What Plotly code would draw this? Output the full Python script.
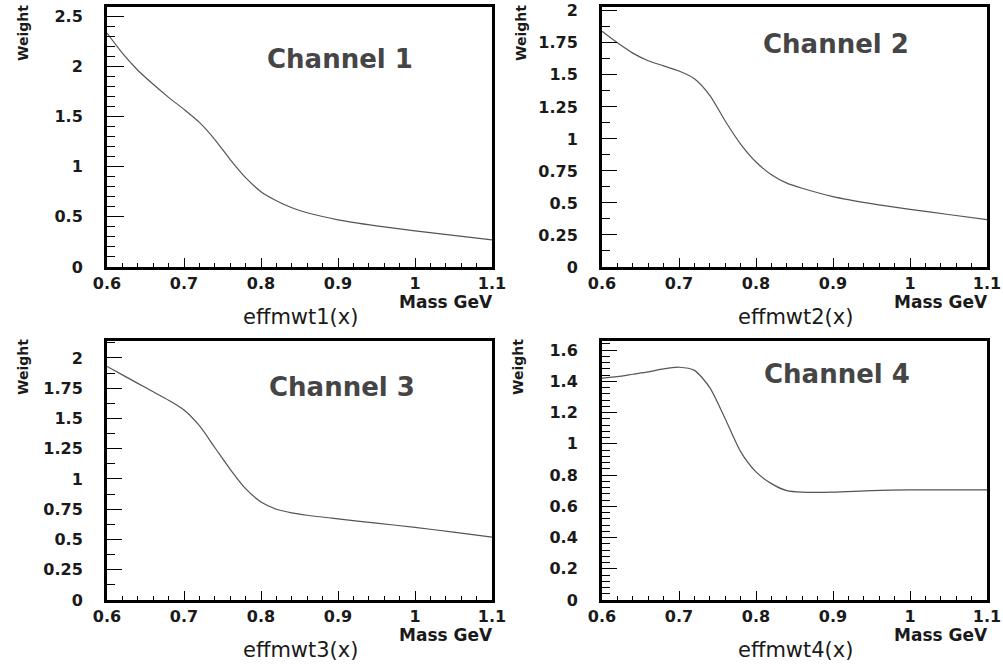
import plotly.graph_objects as go

# ---- data ----
mass = [0.60, 0.62, 0.64, 0.66, 0.68, 0.70, 0.72, 0.74, 0.76, 0.78,
        0.80, 0.82, 0.84, 0.86, 0.90, 0.95, 1.00, 1.05, 1.10]

weight_ch1 = [2.33, 2.13, 1.96, 1.82, 1.69, 1.57, 1.44, 1.27, 1.07, 0.89,
              0.75, 0.66, 0.59, 0.54, 0.47, 0.41, 0.36, 0.315, 0.27]
weight_ch2 = [1.84, 1.75, 1.67, 1.61, 1.57, 1.53, 1.47, 1.34, 1.14, 0.96,
              0.82, 0.72, 0.655, 0.615, 0.55, 0.495, 0.45, 0.41, 0.37]
weight_ch3 = [1.93, 1.86, 1.79, 1.72, 1.65, 1.57, 1.44, 1.26, 1.08, 0.92,
              0.81, 0.75, 0.72, 0.70, 0.67, 0.635, 0.60, 0.56, 0.52]
weight_ch4 = [1.42, 1.43, 1.445, 1.46, 1.48, 1.49, 1.47, 1.36, 1.16, 0.95,
              0.82, 0.745, 0.70, 0.69, 0.69, 0.70, 0.705, 0.705, 0.705]

panel_titles = ["Channel 1", "Channel 2", "Channel 3", "Channel 4"]
func_names = ["effmwt1(x)", "effmwt2(x)", "effmwt3(x)", "effmwt4(x)"]
x_title = "Mass GeV"
y_title = "Weight"

x_tickvals = [0.6, 0.7, 0.8, 0.9, 1.0, 1.1]
x_ticktext = ["0.6", "0.7", "0.8", "0.9", "1", "1.1"]

y_tickvals_1 = [0, 0.5, 1, 1.5, 2, 2.5]
y_ticktext_1 = ["0", "0.5", "1", "1.5", "2", "2.5"]
y_tickvals_2 = [0, 0.25, 0.5, 0.75, 1, 1.25, 1.5, 1.75, 2]
y_ticktext_2 = ["0", "0.25", "0.5", "0.75", "1", "1.25", "1.5", "1.75", "2"]
y_tickvals_3 = y_tickvals_2
y_ticktext_3 = y_ticktext_2
y_tickvals_4 = [0, 0.2, 0.4, 0.6, 0.8, 1, 1.2, 1.4, 1.6]
y_ticktext_4 = ["0", "0.2", "0.4", "0.6", "0.8", "1", "1.2", "1.4", "1.6"]

# ---- layout geometry (pixels) ----
W, H = 1003, 665
cols = [(107, 492), (602, 987)]
rows = [(7, 267), (341, 600)]


def px(x):
    return x / W


def py(y):
    return 1 - y / H


series = [weight_ch1, weight_ch2, weight_ch3, weight_ch4]
yticks = [(y_tickvals_1, y_ticktext_1), (y_tickvals_2, y_ticktext_2),
          (y_tickvals_3, y_ticktext_3), (y_tickvals_4, y_ticktext_4)]
yranges = [[0, 2.59], [0, 2.03], [0, 2.14], [0, 1.658]]
yminor = [0.1, 0.125, 0.125, 0.04]
ymajor_len = [17, 15, 15, 15]

fig = go.Figure()
layout = dict(
    width=W, height=H,
    margin=dict(l=0, r=0, t=0, b=0, pad=0, autoexpand=False),
    paper_bgcolor="white", plot_bgcolor="white",
    showlegend=False,
)
annotations = []
tickfont = dict(family="DejaVu Sans", size=16, color="#1a1a1a", weight="bold")

for i in range(4):
    r, c = divmod(i, 2)
    x0, x1 = cols[c]
    y0, y1 = rows[r]
    sfx = "" if i == 0 else str(i + 1)
    fig.add_trace(go.Scatter(
        x=mass, y=series[i], mode="lines",
        line=dict(color="#555555", width=1.2, shape="spline", smoothing=0.7),
        xaxis="x" + sfx, yaxis="y" + sfx, hoverinfo="skip"))
    layout["xaxis" + sfx] = dict(
        domain=[px(x0), px(x1)], anchor="y" + sfx, range=[0.6, 1.1],
        automargin=False,
        tickmode="array", tickvals=x_tickvals, ticktext=x_ticktext,
        ticks="inside", ticklen=9, tickwidth=1, tickcolor="black",
        minor=dict(ticks="inside", ticklen=4, tickmode="linear", tick0=0.6,
                   dtick=0.02, tickcolor="black", tickwidth=1, showgrid=False),
        showgrid=False, zeroline=False,
        showline=True, linecolor="black", linewidth=3, mirror=True,
        tickfont=tickfont, ticklabelstandoff=0)
    layout["yaxis" + sfx] = dict(
        domain=[py(y1), py(y0)], anchor="x" + sfx, range=yranges[i],
        automargin=False,
        tickmode="array", tickvals=yticks[i][0], ticktext=yticks[i][1],
        ticks="inside", ticklen=ymajor_len[i], tickwidth=1, tickcolor="black",
        minor=dict(ticks="inside", ticklen=8, tickmode="linear", tick0=0,
                   dtick=yminor[i], tickcolor="black", tickwidth=1, showgrid=False),
        showgrid=False, zeroline=False,
        showline=True, linecolor="black", linewidth=3, mirror=True,
        tickfont=tickfont, ticklabelstandoff=18)

    # channel label
    annotations.append(dict(
        text=panel_titles[i], xref="paper", yref="paper",
        x=px(x0 + [233, 234, 235, 235][i]), y=py(y0 + [52, 37, 46, 33][i]),
        xanchor="center", yanchor="middle", showarrow=False,
        font=dict(family="DejaVu Sans", size=26, color="#454545", weight="bold")))
    # y title
    annotations.append(dict(
        text=y_title, xref="paper", yref="paper", textangle=-90,
        x=px(x0 - [84, 81, 84, 84][i]), y=py(y0 + 26),
        xanchor="center", yanchor="middle", showarrow=False,
        font=dict(family="DejaVu Sans", size=14, color="#1a1a1a", weight="bold")))
    # x title
    annotations.append(dict(
        text=x_title, xref="paper", yref="paper",
        x=px(x1 + 3), y=py(y1 + 35),
        xanchor="right", yanchor="middle", showarrow=False,
        font=dict(family="DejaVu Sans", size=17, color="#1a1a1a", weight="bold")))
    # function name
    annotations.append(dict(
        text=func_names[i], xref="paper", yref="paper",
        x=px(x0 + 193), y=py(y1 + 50),
        xanchor="center", yanchor="middle", showarrow=False,
        font=dict(family="DejaVu Sans", size=21, color="#1a1a1a")))

layout["annotations"] = annotations
fig.update_layout(**layout)
fig.write_html("out.html")
